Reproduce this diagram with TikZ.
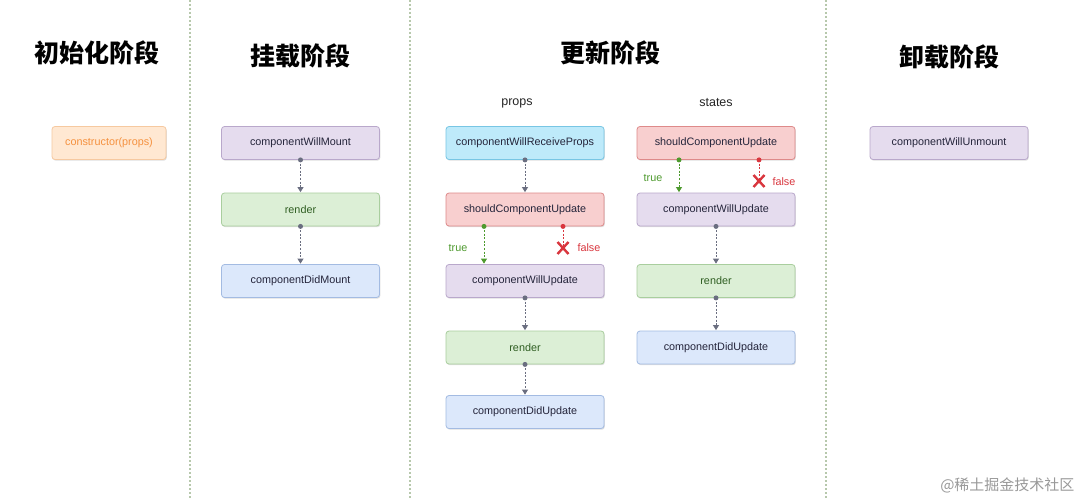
\documentclass[tikz,border=0pt]{standalone}
\usepackage{fontspec}
\setmainfont{Liberation Sans}
\newfontfamily\cjk{Noto Sans CJK SC}
\usetikzlibrary{arrows.meta,shadows}
\definecolor{sepc}{HTML}{B7C8AC}
\definecolor{orgF}{HTML}{FFE8D2}\definecolor{orgD}{HTML}{F6C9A0}\definecolor{orgT}{HTML}{F5913F}
\definecolor{purF}{HTML}{E5DCEE}\definecolor{purD}{HTML}{B9A8CB}
\definecolor{grnF}{HTML}{DCEFD6}\definecolor{grnD}{HTML}{A9CE9E}\definecolor{grnT}{HTML}{2F5E22}
\definecolor{bluF}{HTML}{DCE8FB}\definecolor{bluD}{HTML}{A3BBE2}
\definecolor{cyaF}{HTML}{BEEAFA}\definecolor{cyaD}{HTML}{78C6E4}
\definecolor{redF}{HTML}{F8CFCF}\definecolor{redD}{HTML}{DE8A8A}
\definecolor{txt}{HTML}{24243A}
\definecolor{arrc}{HTML}{6A6E80}
\definecolor{truec}{HTML}{4E9A2E}
\definecolor{falsec}{HTML}{D9363E}
\begin{document}
\begin{tikzpicture}[x=1pt,y=-1pt,
  box/.style={rounded corners=3pt, line width=0.8pt, minimum width=158pt, minimum height=33pt,
    inner sep=0pt, font=\fontsize{10.8}{12}\selectfont, text=txt,
    drop shadow={shadow xshift=0.8pt, shadow yshift=-1.2pt, opacity=0.25}},
  orgbox/.style={box, draw=orgD, fill=orgF, text=orgT, minimum width=114pt},
  purbox/.style={box, draw=purD, fill=purF},
  grnbox/.style={box, draw=grnD, fill=grnF, text=grnT},
  blubox/.style={box, draw=bluD, fill=bluF},
  cyabox/.style={box, draw=cyaD, fill=cyaF},
  redbox/.style={box, draw=redD, fill=redF},
  sep/.style={draw=sepc, line width=1.2pt, dash pattern=on 2pt off 2pt},
  title/.style={font=\cjk\bfseries\fontsize{25}{28}\selectfont, text=black},
  sub/.style={font=\fontsize{12.5}{14}\selectfont, text=black!85},
  flow/.style={draw=#1, line width=0.8pt, dash pattern=on 2pt off 1.6pt, -{Triangle[length=5pt,width=6pt]}, shorten >=0.5pt},
  dotc/.style={fill=#1, circle, inner sep=0pt, minimum size=5pt},
  lbl/.style={font=\fontsize{10.8}{12}\selectfont, text=#1}
]
\useasboundingbox[fill=white] (0,0) rectangle (1083,500);

% separators
\coordinate (s1t) at (190,0); \coordinate (s1b) at (190,500);
\coordinate (s2t) at (410,0); \coordinate (s2b) at (410,500);
\coordinate (s3t) at (826,0); \coordinate (s3b) at (826,500);
\draw[sep] (s1t) -- (s1b);
\draw[sep] (s2t) -- (s2b);
\draw[sep] (s3t) -- (s3b);

% titles
\node[title] (t1) at (97,53) {初始化阶段};
\node[title] (t2) at (300,56) {挂载阶段};
\node[title] (t3) at (610,53) {更新阶段};
\node[title] (t4) at (949,57) {卸载阶段};
\node[sub] (ps) at (517,103) {props};
\node[sub] (st) at (716,103) {states};

% init
\node[orgbox] (ctor) at (109,143) {constructor(props)};

% mount
\node[purbox] (cwm) at (300.5,143) {componentWillMount};
\node[grnbox] (r1) at (300.5,209.5) {render};
\node[blubox] (cdm) at (300.5,281) {componentDidMount};

% update props
\node[cyabox] (cwrp) at (525,143) {componentWillReceiveProps};
\node[redbox] (scu1) at (525,209.5) {shouldComponentUpdate};
\node[purbox] (cwu1) at (525,281) {componentWillUpdate};
\node[grnbox] (r2) at (525,347.5) {render};
\node[blubox] (cdu1) at (525,412) {componentDidUpdate};

% update states
\node[redbox] (scu2) at (716,143) {shouldComponentUpdate};
\node[purbox] (cwu2) at (716,209.5) {componentWillUpdate};
\node[grnbox] (r3) at (716,281) {render};
\node[blubox] (cdu2) at (716,347.5) {componentDidUpdate};

% unmount
\node[purbox] (cwum) at (949,143) {componentWillUnmount};

% plain flows
\foreach \a/\b in {cwm/r1, r1/cdm, cwrp/scu1, cwu1/r2, r2/cdu1, cwu2/r3, r3/cdu2} {
  \draw[flow=arrc] (\a.south) -- (\b.north);
  \node[dotc=arrc] at (\a.south) {};
}

% true/false branches (props)
\coordinate (t1s) at ([xshift=-41pt]scu1.south);
\coordinate (t1e) at ([xshift=-41pt]cwu1.north);
\draw[flow=truec] (t1s) -- (t1e);
\node[dotc=truec] at (t1s) {};
\node[lbl=truec] (tl1) at (458,248) {true};
\coordinate (f1s) at ([xshift=38pt]scu1.south);
\coordinate (f1e) at (563,248);
\draw[draw=falsec, line width=0.8pt, dash pattern=on 2pt off 1.6pt] (f1s) -- (f1e);
\node[dotc=falsec] at (f1s) {};
\draw[falsec, line width=2.4pt] ([shift={(-5.5,-6)}]f1e) -- ([shift={(5.5,6)}]f1e);
\draw[falsec, line width=2.4pt] ([shift={(-5.5,6)}]f1e) -- ([shift={(5.5,-6)}]f1e);
\node[lbl=falsec, anchor=west] (fl1) at (574,248) {false};

% true/false branches (states)
\coordinate (t2s) at ([xshift=-37pt]scu2.south);
\coordinate (t2e) at ([xshift=-37pt]cwu2.north);
\draw[flow=truec] (t2s) -- (t2e);
\node[dotc=truec] at (t2s) {};
\node[lbl=truec] (tl2) at (653,178) {true};
\coordinate (f2s) at ([xshift=43pt]scu2.south);
\coordinate (f2e) at (759,181);
\draw[draw=falsec, line width=0.8pt, dash pattern=on 2pt off 1.6pt] (f2s) -- (f2e);
\node[dotc=falsec] at (f2s) {};
\draw[falsec, line width=2.4pt] ([shift={(-5.5,-6)}]f2e) -- ([shift={(5.5,6)}]f2e);
\draw[falsec, line width=2.4pt] ([shift={(-5.5,6)}]f2e) -- ([shift={(5.5,-6)}]f2e);
\node[lbl=falsec, anchor=west] (fl2) at (769,182) {false};

% watermark
\node[font=\cjk\fontsize{15}{17}\selectfont, text=black!40, anchor=east] (wm) at (1078,485) {@稀土掘金技术社区};
\end{tikzpicture}
\end{document}
